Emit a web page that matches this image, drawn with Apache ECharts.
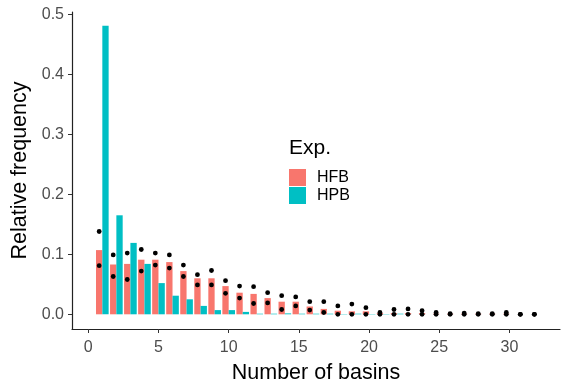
<!DOCTYPE html>
<html>
<head>
<meta charset="utf-8">
<script src="https://cdn.jsdelivr.net/npm/echarts@6/dist/echarts.min.js"></script>
<style>
  html, body { margin: 0; padding: 0; background: #fff; }
  #chart { width: 562px; height: 383px; }
</style>
</head>
<body>
<div id="chart"></div>
<script>
// values
const basins = [1, 2, 3, 4, 5, 6, 7, 8, 9, 10, 11, 12, 13, 14, 15, 16,
  17, 18, 19, 20, 21, 22, 23, 24, 25, 26, 27, 28, 29, 30, 31, 32]
const hfb = [0.107, 0.083, 0.084, 0.091, 0.091, 0.087, 0.072, 0.060, 0.060, 0.047, 0.036, 0.034,
  0.027, 0.021, 0.021, 0.013, 0.009, 0.006, 0.005, 0.005, 0.002, 0.002, 0.002, 0.002,
  0.001, 0.001, 0.001, 0.001, 0.001, 0.001, 0, 0]
const hpb = [0.481, 0.165, 0.119, 0.084, 0.052, 0.031, 0.025, 0.014, 0.007, 0.007, 0.004, 0.001,
  0.001, 0.0015, 0.001, 0.001, 0.001, 0.0005, 0.001, 0.0005, 0.0005, 0.001, 0, 0,
  0, 0, 0, 0, 0, 0, 0, 0]
const pointsA = [0.138, 0.099, 0.102, 0.108, 0.102, 0.099, 0.082, 0.066, 0.073, 0.056, 0.047, 0.046,
  0.036, 0.031, 0.029, 0.021, 0.021, 0.014, 0.017, 0.011, 0.003, 0.008, 0.009, 0.006,
  0.003, 0.001, 0.002, 0.001, 0.001, 0.003, 0, 0]
const pointsB = [0.081, 0.063, 0.058, 0.072, 0.082, 0.077, 0.063, 0.049, 0.049, 0.035, 0.027, 0.018,
  0.019, 0.008, 0.014, 0.007, 0.003, 0, 0, 0, 0, 0, 0, 0,
  0, 0, 0, 0, 0, 0, 0, 0]
const xTicks = [0, 5, 10, 15, 20, 25, 30]
const yTicks = [0, 0.1, 0.2, 0.3, 0.4, 0.5]

const font = 'Liberation Sans, Arial, sans-serif'
const dodge = 0.45

const barRender = (offset) => (params, api) => {
  const x = api.value(0)
  const v = api.value(1)
  const p0 = api.coord([x + offset, v])
  const p1 = api.coord([x + offset + dodge, 0])
  return {
    type: 'rect',
    shape: { x: p0[0], y: p0[1], width: p1[0] - p0[0], height: p1[1] - p0[1] },
    style: { fill: api.visual('color') }
  }
}

const myChart = echarts.init(document.getElementById('chart'))
myChart.setOption({
  animation: false,
  textStyle: { fontFamily: font },
  title: {
    text: 'Exp.',
    left: 289,
    top: 138,
    padding: 0,
    textStyle: { fontFamily: font, fontSize: 21, fontWeight: 'normal', color: '#000' }
  },
  legend: {
    data: [{ name: 'HFB', icon: 'rect' }, { name: 'HPB', icon: 'rect' }],
    orient: 'vertical',
    left: 289,
    top: 169,
    padding: 0,
    itemWidth: 17,
    itemHeight: 17,
    itemGap: 1,
    textStyle: { fontFamily: font, fontSize: 16, color: '#000', padding: [0, 0, 0, 6] }
  },
  grid: {
    left: 72,
    right: 2,
    top: 12,
    bottom: 54,
    containLabel: false,
    outerBoundsMode: 'none'
  },
  xAxis: {
    type: 'value',
    min: -1.16,
    max: 33.6,
    name: 'Number of basins',
    nameLocation: 'middle',
    nameGap: 33,
    nameTextStyle: { fontFamily: font, fontSize: 21.5, color: '#000' },
    splitLine: { show: false },
    axisLine: { onZero: false, lineStyle: { color: '#222', width: 1.2 } },
    axisTick: { customValues: xTicks, length: 4, lineStyle: { color: '#333' } },
    axisLabel: { customValues: xTicks, margin: 11, fontSize: 16, color: '#4d4d4d' }
  },
  yAxis: {
    type: 'value',
    min: -0.0245,
    max: 0.5038,
    name: 'Relative frequency',
    nameLocation: 'middle',
    nameGap: 33,
    nameTextStyle: { fontFamily: font, fontSize: 21.5, color: '#000' },
    splitLine: { show: false },
    axisLine: { show: true, onZero: false, lineStyle: { color: '#222', width: 1.2 } },
    axisTick: { show: true, customValues: yTicks, length: 4, lineStyle: { color: '#333' } },
    axisLabel: {
      customValues: yTicks,
      margin: 8,
      fontSize: 16,
      color: '#4d4d4d',
      formatter: (v) => v.toFixed(1)
    }
  },
  series: [
    {
      name: 'HFB',
      type: 'custom',
      itemStyle: { color: '#F8766D' },
      encode: { x: 0, y: 1 },
      renderItem: barRender(-dodge),
      data: basins.map((b, i) => [b, hfb[i]])
    },
    {
      name: 'HPB',
      type: 'custom',
      itemStyle: { color: '#00BFC4' },
      encode: { x: 0, y: 1 },
      renderItem: barRender(0),
      data: basins.map((b, i) => [b, hpb[i]])
    },
    {
      name: 'pointsA',
      type: 'scatter',
      symbolSize: 4.8,
      itemStyle: { color: '#000', opacity: 1 },
      data: basins.map((b, i) => [b - dodge / 2, pointsA[i]])
    },
    {
      name: 'pointsB',
      type: 'scatter',
      symbolSize: 4.8,
      itemStyle: { color: '#000', opacity: 1 },
      data: basins.map((b, i) => [b - dodge / 2, pointsB[i]])
    }
  ]
})
</script>
</body>
</html>
